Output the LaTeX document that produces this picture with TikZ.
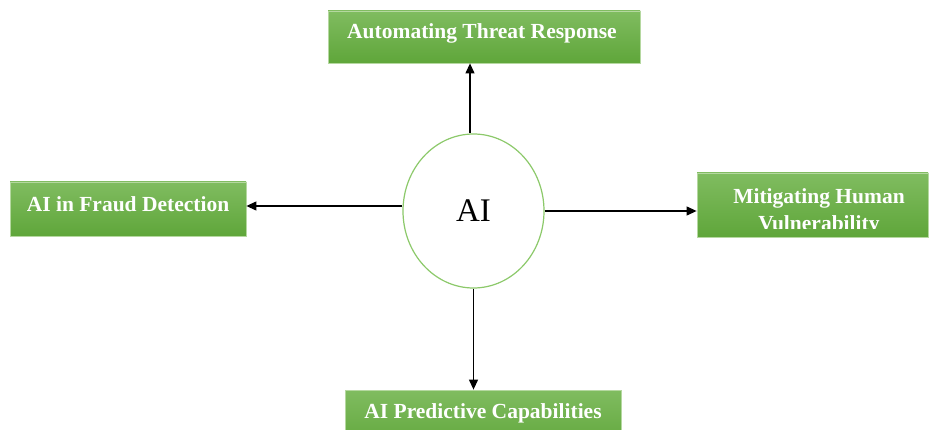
\documentclass[tikz,border=0pt]{standalone}
\usepackage{fontspec}
\setmainfont{Liberation Serif}
\usetikzlibrary{arrows.meta,shapes.geometric}

\definecolor{boxtop}{HTML}{80BC60}
\definecolor{boxbot}{HTML}{5FA63A}
\definecolor{boxedge}{HTML}{B5D8A0}
\definecolor{ringgreen}{HTML}{8CC96A}

\tikzset{
  topic/.style={draw=boxedge, line width=0.8pt, top color=boxtop,
    bottom color=boxbot, inner sep=0pt},
  topictext/.style={text=white, inner sep=0pt,
    font=\bfseries\fontsize{21.5}{27}\selectfont},
  hub/.style={ellipse, draw=ringgreen, line width=1.2pt, fill=white,
    inner sep=0pt, minimum width=141pt, minimum height=154pt,
    font=\fontsize{33}{36}\selectfont},
  link/.style={-{Triangle[length=10pt,width=9pt]}, line width=1.2pt}
}

\begin{document}
\begin{tikzpicture}[x=1pt, y=-1pt]
  \clip (0,0) rectangle (929,430);
  \fill[white] (0,0) rectangle (929,430);

  % central hub
  \node[hub] (ai) at (473.5,211) {AI};

  % topic boxes
  \node[topic, minimum width=312pt, minimum height=52pt] (top) at (484,37) {};
  \node[topic, minimum width=236pt, minimum height=54pt] (lft) at (128,209) {};
  \node[topic, minimum width=231pt, minimum height=64pt] (rgt) at (812.5,205) {};
  \node[topic, minimum width=276pt, minimum height=60pt] (bot) at (483,420) {};

  % box captions
  \node[topictext, anchor=base] (toptext) at (482,39) {Automating Threat Response};
  \node[topictext, anchor=base] (lfttext) at (128,212) {AI in Fraud Detection};
  \node[topictext, anchor=base] (bottext) at (483,418) {AI Predictive Capabilities};
  \begin{scope}
    \clip (697,173) rectangle (928,229);
    \node[topictext, anchor=north, align=center] (rgttext) at (819,188)
      {Mitigating Human\\Vulnerability};
  \end{scope}

  % connectors from the hub
  \draw[link] ([xshift=-3.5pt]ai.north) -- ([xshift=-3.5pt]ai.north |- top.south);
  \draw[link] ([yshift=5pt]ai.west) -- ([yshift=5pt]ai.west -| lft.east);
  \draw[link] (ai.east) -- (ai.east -| rgt.west);
  \draw[link] (ai.south) -- (ai.south |- bot.north);
\end{tikzpicture}
\end{document}
